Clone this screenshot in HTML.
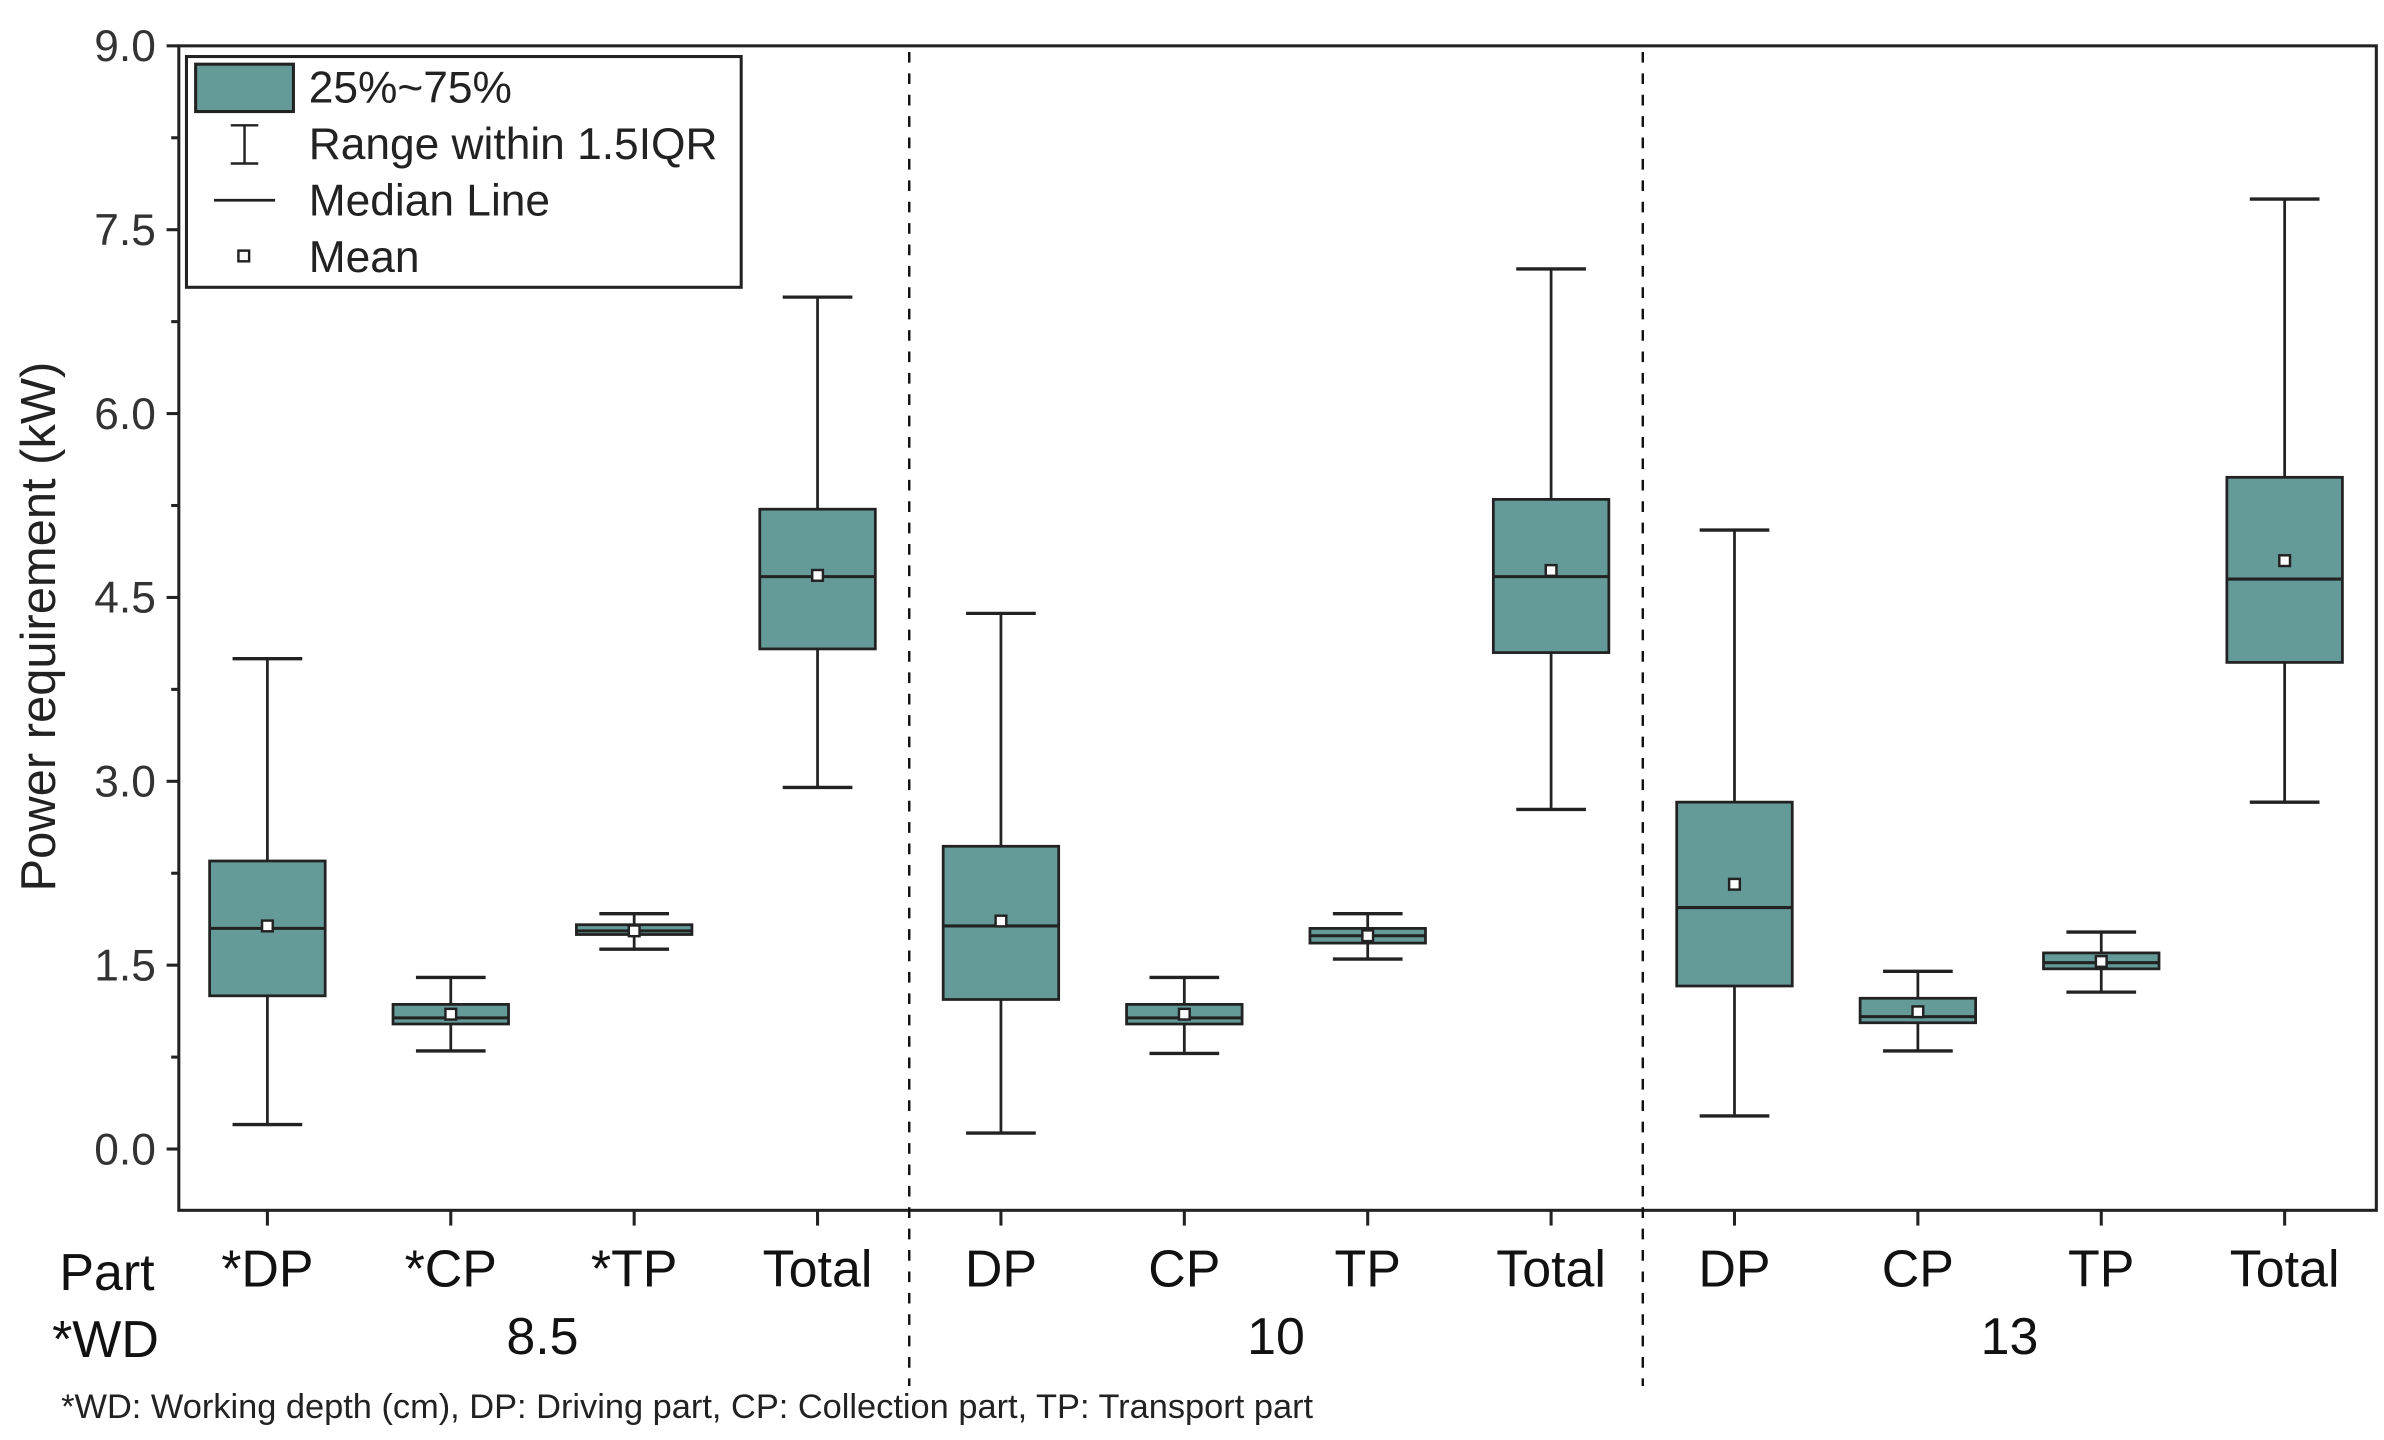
<!DOCTYPE html>
<html><head><meta charset="utf-8"><style>
html,body{margin:0;padding:0;background:#fff;}
svg{display:block;font-family:"Liberation Sans Narrow","Liberation Sans",sans-serif;}
</style></head><body>
<svg id="chart" width="2384" height="1440" viewBox="0 0 1560 942.3" xmlns="http://www.w3.org/2000/svg"></svg>
<script>
const categories = ["*DP","*CP","*TP","Total","DP","CP","TP","Total","DP","CP","TP","Total"];
const groups = ["8.5","10","13"];
const whiskerLow  = [0.2, 0.8, 1.63, 2.95, 0.13, 0.78, 1.55, 2.77, 0.27, 0.8, 1.28, 2.83];
const whiskerHigh = [4.0, 1.4, 1.92, 6.95, 4.37, 1.4, 1.92, 7.18, 5.05, 1.45, 1.77, 7.75];
const q1 = [1.25, 1.02, 1.75, 4.08, 1.22, 1.02, 1.68, 4.05, 1.33, 1.03, 1.47, 3.97];
const q3 = [2.35, 1.18, 1.83, 5.22, 2.47, 1.18, 1.8, 5.3, 2.83, 1.23, 1.6, 5.48];
const medians = [1.8, 1.07, 1.78, 4.67, 1.82, 1.07, 1.74, 4.67, 1.97, 1.08, 1.52, 4.65];
const means = [1.82, 1.1, 1.78, 4.68, 1.86, 1.1, 1.74, 4.72, 2.16, 1.12, 1.53, 4.8];
const yTicks = ["0.0","1.5","3.0","4.5","6.0","7.5","9.0"];

const svg = document.getElementById('chart');
const NS = "http://www.w3.org/2000/svg";
const L=117, R=1555, T=30, B=792;
const yMin=-0.5, yMax=9.0, xMin=-0.483, xMax=11.5;
const y = v => B - (v - yMin)/(yMax - yMin)*(B - T);
const x = i => L + (i - xMin)/(xMax - xMin)*(R - L);
const unit = x(1) - x(0);

function mk(tag, attrs, parent){
  const e = document.createElementNS(NS, tag);
  for (const k in attrs) e.setAttribute(k, attrs[k]);
  (parent||svg).appendChild(e);
  return e;
}
function txt(s, attrs, parent){ const e = mk('text', attrs, parent); e.textContent = s; return e; }

const frame = mk('rect',{x:L,y:T,width:R-L,height:B-T,fill:'none',stroke:'#222','stroke-width':2});



[3.5, 7.5].forEach((p,k)=>{
  const d = mk('line',{x1:x(p),x2:x(p),y1:T+4,y2:907,stroke:'#111','stroke-width':1.6,'stroke-dasharray':'7,7'});
  
  
});

yTicks.forEach(t=>{
  const v = parseFloat(t);
  const tk = mk('line',{x1:L-8,x2:L,y1:y(v),y2:y(v),stroke:'#222','stroke-width':2});
  
  
  const lb = txt(t,{x:L-15,y:y(v)+10,'text-anchor':'end','font-size':29,fill:'#333'});
  
  
  if (v < 9) {
    const mt = mk('line',{x1:L-5,x2:L,y1:y(v+0.75),y2:y(v+0.75),stroke:'#222','stroke-width':2});
    
    
  }
});
const yt = txt('Power requirement (kW)',{x:0,y:0,transform:'translate(36,410) rotate(-90)','text-anchor':'middle','font-size':32,fill:'#222'});



categories.forEach((c,i)=>{
  const g = mk('g',{});
  
  
  const cx = x(i), bw = unit*0.63, cw = unit*0.38;
  mk('line',{x1:cx,x2:cx,y1:y(whiskerHigh[i]),y2:y(q3[i]),stroke:'#222','stroke-width':1.8},g);
  mk('line',{x1:cx,x2:cx,y1:y(q1[i]),y2:y(whiskerLow[i]),stroke:'#222','stroke-width':1.8},g);
  mk('line',{x1:cx-cw/2,x2:cx+cw/2,y1:y(whiskerHigh[i]),y2:y(whiskerHigh[i]),stroke:'#222','stroke-width':2.2},g);
  mk('line',{x1:cx-cw/2,x2:cx+cw/2,y1:y(whiskerLow[i]),y2:y(whiskerLow[i]),stroke:'#222','stroke-width':2.2},g);
  mk('rect',{x:cx-bw/2,y:y(q3[i]),width:bw,height:y(q1[i])-y(q3[i]),fill:'#649a98',stroke:'#222','stroke-width':1.8},g);
  mk('line',{x1:cx-bw/2,x2:cx+bw/2,y1:y(medians[i]),y2:y(medians[i]),stroke:'#222','stroke-width':2},g);
  mk('rect',{x:cx-3.5,y:y(means[i])-3.5,width:7,height:7,fill:'#fff',stroke:'#222','stroke-width':1.6},g);
  const tk = mk('line',{x1:cx,x2:cx,y1:B,y2:B+10,stroke:'#222','stroke-width':2});
  
  
  const lb = txt(c,{x:cx,y:842,'text-anchor':'middle','font-size':34,fill:'#111'});
  
  
});
groups.forEach((gname,k)=>{
  const lb = txt(gname,{x:x(4*k+1.5),y:886,'text-anchor':'middle','font-size':34,fill:'#111'});
  
  
});
const pl = txt('Part',{x:70,y:844,'text-anchor':'middle','font-size':34,fill:'#111'});


const wl = txt('*WD',{x:69,y:888,'text-anchor':'middle','font-size':34,fill:'#111'});


const fn = txt('*WD: Working depth (cm), DP: Driving part, CP: Collection part, TP: Transport part',{x:40,y:928,'font-size':22.5,fill:'#222'});



const lg = mk('g',{});


mk('rect',{x:122,y:37,width:363,height:151,fill:'#fff',stroke:'#222','stroke-width':2},lg);
mk('rect',{x:128,y:42,width:64,height:31,fill:'#649a98',stroke:'#222','stroke-width':2},lg);
mk('line',{x1:160,x2:160,y1:82,y2:107,stroke:'#222','stroke-width':1.6},lg);
mk('line',{x1:151,x2:169,y1:82,y2:82,stroke:'#222','stroke-width':1.6},lg);
mk('line',{x1:151,x2:169,y1:107,y2:107,stroke:'#222','stroke-width':1.6},lg);
mk('line',{x1:140,x2:180,y1:131,y2:131,stroke:'#222','stroke-width':1.8},lg);
mk('rect',{x:156,y:164,width:7,height:7,fill:'#fff',stroke:'#222','stroke-width':1.6},lg);
[["25%~75%",67],["Range within 1.5IQR",104],["Median Line",141],["Mean",178]].forEach(([s,yy])=>{
  const e = txt(s,{x:202,y:yy,'font-size':29,fill:'#222'},lg);
  
  
});
</script>
</body></html>
